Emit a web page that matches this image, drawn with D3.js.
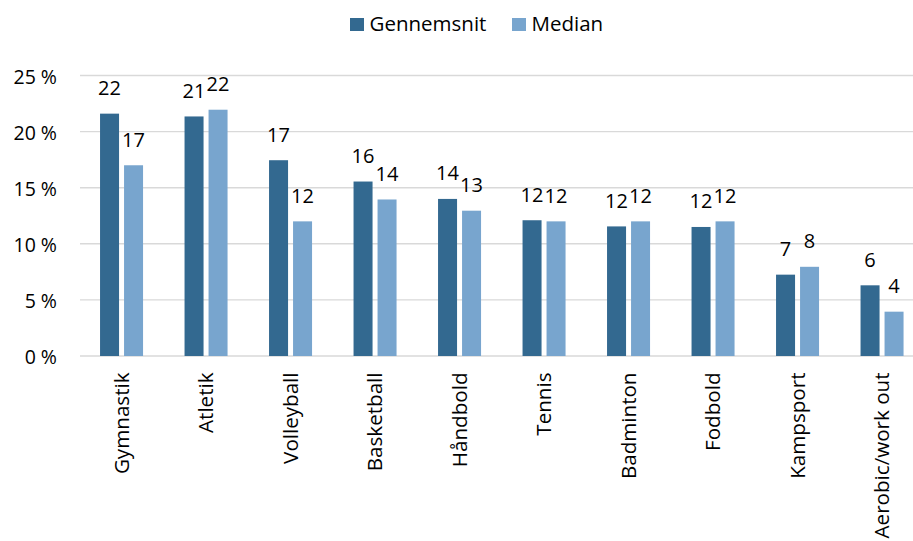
<!DOCTYPE html>
<html>
<head>
<meta charset="utf-8">
<script src="https://cdn.jsdelivr.net/npm/d3@7"></script>
<style>
  html, body { margin: 0; padding: 0; background: #fff; }
  svg { display: block; font-family: "Open Sans", sans-serif; }
</style>
</head>
<body>
<svg id="chart" width="913" height="541"></svg>
<script>
const categories = ["Gymnastik", "Atletik", "Volleyball", "Basketball", "Håndbold", "Tennis", "Badminton", "Fodbold", "Kampsport", "Aerobic/work out"];
const seriesNames = ["Gennemsnit", "Median"];
const gennemsnit = [21.6, 21.35, 17.45, 15.55, 14.0, 12.1, 11.55, 11.5, 7.25, 6.3];
const median = [17.0, 21.95, 12.0, 13.95, 12.95, 12.0, 12.0, 12.0, 7.95, 3.95];
const yTicks = [0, 5, 10, 15, 20, 25];
const colors = ["#336990", "#78a5ce"];

const seriesValues = [gennemsnit, median];
const data = categories.map((c, i) => ({
  cat: c,
  vals: seriesNames.map((s, j) => ({ series: s, value: seriesValues[j][i], idx: j }))
}));

const svg = d3.select("#chart");

const x0 = d3.scaleBand().domain(categories).range([79.3, 924.3])
  .paddingInner(0.491).paddingOuter(0.2455);
const x1 = d3.scaleBand().domain(seriesNames).range([0, x0.bandwidth()])
  .paddingInner(0.2083);
const y = d3.scaleLinear().domain([0, 25]).range([356, 75.5]);
const color = d3.scaleOrdinal().domain(seriesNames).range(colors);

// gridlines
svg.append("g").selectAll("line").data(yTicks).join("line")
  .attr("x1", 80).attr("x2", 913)
  .attr("y1", d => y(d)).attr("y2", d => y(d))
  .attr("stroke", "#d9d9d9").attr("stroke-width", 1.4);

// y axis labels
const yAxis = d3.axisLeft(y).tickValues(yTicks).tickFormat(d => d + " %").tickSize(0).tickPadding(0);
const gy = svg.append("g").attr("transform", "translate(57,0)").call(yAxis);
gy.select(".domain").remove();
gy.selectAll("text").attr("font-size", "19.5px").attr("fill", "#000")
  .attr("font-family", "'Open Sans', sans-serif").attr("dy", "0.4em");

// bars
const groups = svg.append("g").selectAll("g").data(data).join("g")
  .attr("transform", d => `translate(${x0(d.cat)},0)`);

groups.selectAll("rect").data(d => d.vals).join("rect")
  .attr("x", d => x1(d.series))
  .attr("width", x1.bandwidth())
  .attr("y", d => y(d.value))
  .attr("height", d => y(0) - y(d.value))
  .attr("fill", d => color(d.series));

// value labels
groups.selectAll("text").data(d => d.vals).join("text")
  .attr("x", d => x1(d.series) + x1.bandwidth() / 2)
  .attr("y", d => y(d.value) - 18.5)
  .attr("text-anchor", "middle")
  .attr("font-size", "20px")
  .attr("fill", "#000")
  .text(d => Math.round(d.value));

// category labels
svg.append("g").selectAll("text").data(categories).join("text")
  .attr("transform", d => `translate(${x0(d) + x0.bandwidth() / 2},372.5) rotate(-90)`)
  .attr("text-anchor", "end")
  .attr("dy", "0.36em")
  .attr("font-size", "20.6px")
  .attr("fill", "#000")
  .text(d => d);

// legend
const legendX = [350, 512];
const legend = svg.append("g").selectAll("g").data(seriesNames).join("g")
  .attr("transform", (d, i) => `translate(${legendX[i]},0)`);
legend.append("rect").attr("x", 0).attr("y", 18).attr("width", 14).attr("height", 13)
  .attr("fill", d => color(d));
legend.append("text").attr("x", 19.5).attr("y", 31)
  .attr("font-size", "20.5px").attr("fill", "#000").text(d => d);
</script>
</body>
</html>
